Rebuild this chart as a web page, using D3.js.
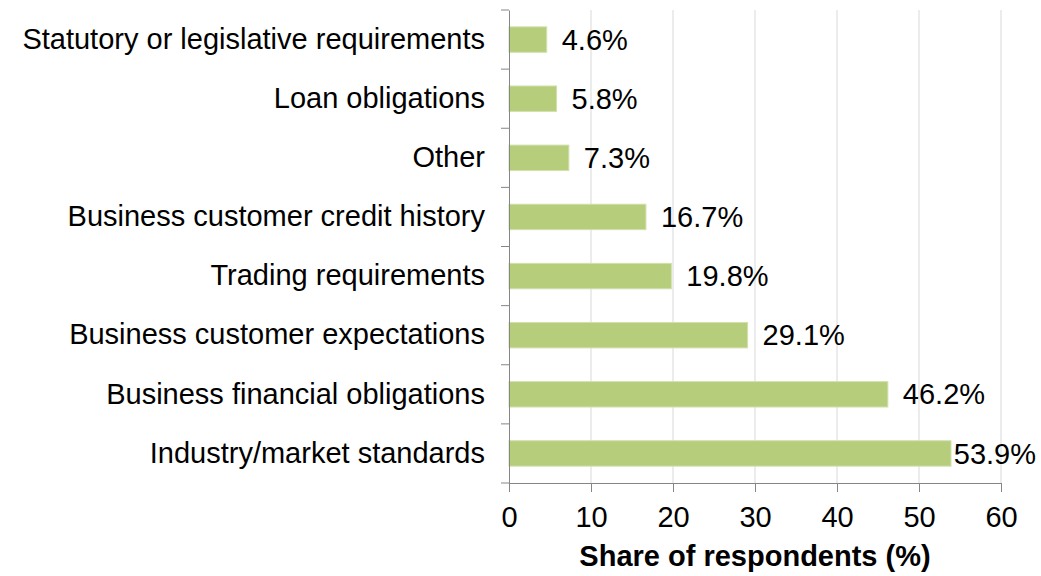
<!DOCTYPE html>
<html>
<head>
<meta charset="utf-8">
<script src="https://cdn.jsdelivr.net/npm/d3@7"></script>
<style>
  html, body { margin: 0; padding: 0; background: #fff; }
  svg { display: block; font-family: "Liberation Sans", Arial, sans-serif; }
</style>
</head>
<body>
<div id="chart"></div>
<script>
// =========================
// DATA
// =========================
const categories = [
    "Statutory or legislative requirements",
    "Loan obligations",
    "Other",
    "Business customer credit history",
    "Trading requirements",
    "Business customer expectations",
    "Business financial obligations",
    "Industry/market standards"
];
const shares = [4.6, 5.8, 7.3, 16.7, 19.8, 29.1, 46.2, 53.9];
const xTicks = [0, 10, 20, 30, 40, 50, 60];
const xTitle = "Share of respondents (%)";

const data = categories.map((c, i) => ({ label: c, value: shares[i] }));

// =========================
// SETUP
// =========================
const width = 1041;
const height = 576;
const fontSize = "29px";
const margin = { top: 10, right: 40, bottom: 93, left: 509 };
const innerW = 1001 - margin.left;
const innerH = 483 - margin.top;

const svg = d3.select("#chart")
    .append("svg")
    .attr("width", width)
    .attr("height", height);

const g = svg.append("g")
    .attr("transform", `translate(${margin.left},${margin.top})`);

const x = d3.scaleLinear().domain([0, 60]).range([0, innerW]);
const y = d3.scaleBand().domain(categories).range([0, innerH]).paddingInner(0.57).paddingOuter(0.285);

// =========================
// GRID
// =========================
g.selectAll(".grid")
    .data(xTicks.filter(d => d > 0))
    .enter()
    .append("line")
    .attr("x1", d => x(d))
    .attr("x2", d => x(d))
    .attr("y1", 0)
    .attr("y2", innerH)
    .attr("stroke", "#d9d9d9")
    .attr("stroke-width", 1);

// =========================
// BARS
// =========================
g.selectAll(".bar")
    .data(data)
    .enter()
    .append("rect")
    .attr("x", x(0))
    .attr("y", d => y(d.label))
    .attr("width", d => x(d.value) - x(0))
    .attr("height", y.bandwidth())
    .attr("fill", "#b6cd7b")
    .attr("stroke", "#d2e0ae")
    .attr("stroke-width", 1);

// =========================
// VALUE LABELS (kept inside the right edge)
// =========================
const rightEdge = 1036 - margin.left;
g.selectAll(".val")
    .data(data)
    .enter()
    .append("text")
    .attr("y", d => y(d.label) + y.bandwidth() / 2)
    .attr("dy", "0.35em")
    .style("font-size", fontSize)
    .style("fill", "#000")
    .text(d => d.value.toFixed(1) + "%")
    .attr("x", function (d) {
        const w = this.getComputedTextLength();
        return Math.min(x(d.value) + 15, rightEdge - w);
    });

// =========================
// AXES
// =========================
const yAxis = g.append("g")
    .call(d3.axisLeft(y).tickSize(0).tickPadding(24));
yAxis.select(".domain").attr("stroke", "#868686");
yAxis.selectAll("text").style("font-size", fontSize).style("fill", "#000");

// category boundary ticks
const bounds = d3.range(categories.length + 1).map(i => i * innerH / categories.length);
g.selectAll(".ytick")
    .data(bounds)
    .enter()
    .append("line")
    .attr("x1", -8)
    .attr("x2", 0)
    .attr("y1", d => d)
    .attr("y2", d => d)
    .attr("stroke", "#868686");

const xAxis = g.append("g")
    .attr("transform", `translate(0,${innerH})`)
    .call(d3.axisBottom(x).tickValues(xTicks).tickSize(9).tickPadding(14).tickSizeOuter(0));
xAxis.select(".domain").attr("stroke", "#868686");
xAxis.selectAll("line").attr("stroke", "#868686");
xAxis.selectAll("text").style("font-size", fontSize).style("fill", "#000");

// =========================
// TITLE
// =========================
svg.append("text")
    .attr("x", margin.left + innerW / 2)
    .attr("y", 566)
    .attr("text-anchor", "middle")
    .style("font-size", fontSize)
    .style("font-weight", "bold")
    .style("fill", "#000")
    .text(xTitle);
</script>
</body>
</html>
